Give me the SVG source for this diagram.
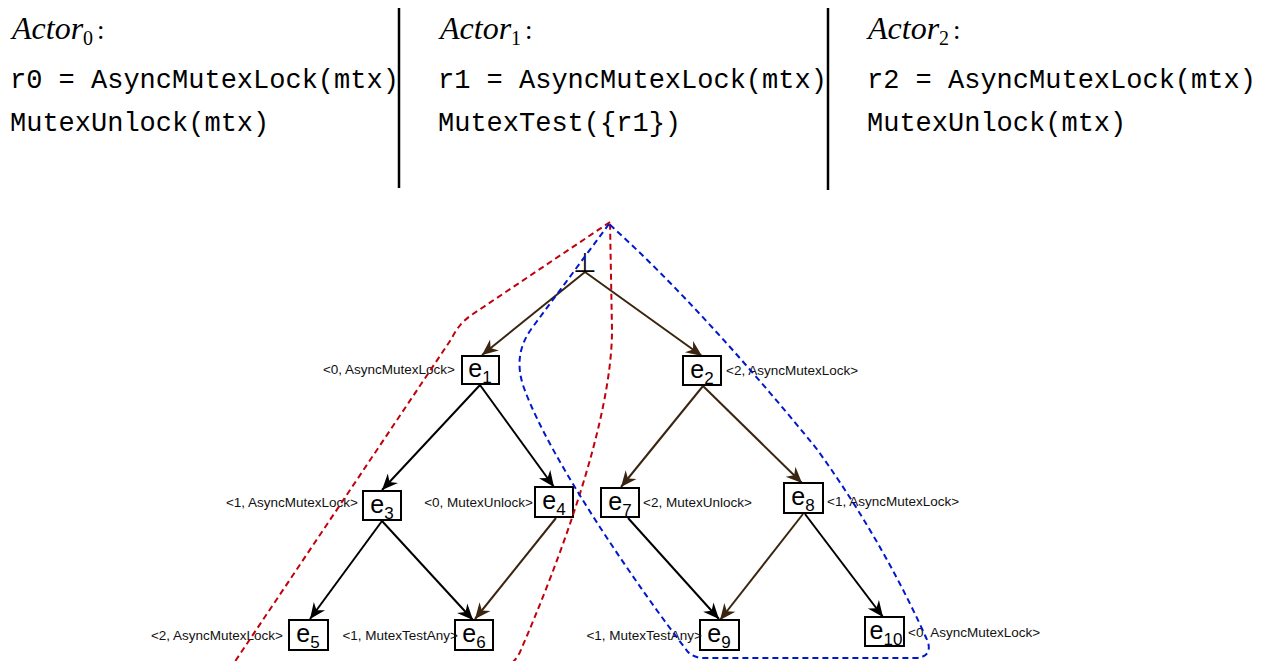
<svg xmlns="http://www.w3.org/2000/svg" width="1266" height="661" viewBox="0 0 1266 661">
<style>
.mono{font-family:"Liberation Mono","DejaVu Sans Mono",monospace;font-size:27px;fill:#000}
.actor{font-family:"Liberation Serif","DejaVu Serif",serif;font-style:italic;font-size:32px;fill:#000}
.sub{font-family:"Liberation Serif","DejaVu Serif",serif;font-style:normal;font-size:20px}
.colon{font-family:"Liberation Serif","DejaVu Serif",serif;font-style:normal;font-size:27px}
.div{stroke:#000;stroke-width:2.5}
.box{fill:#fff;stroke:#000;stroke-width:2}
.ev{font-family:"Liberation Sans",Arial,sans-serif;font-size:25px;fill:#000;text-anchor:middle}
.evs{font-size:17px}
.lbl{font-family:"Liberation Sans",Arial,sans-serif;font-size:13.5px;fill:#111}
.end{text-anchor:end}
.e-br{fill:none;stroke:#3b2510;stroke-width:2;marker-end:url(#arBr)}
.e-bk{fill:none;stroke:#000;stroke-width:2;marker-end:url(#arBk)}
.red{fill:none;stroke:#c0000b;stroke-width:2;stroke-dasharray:6 4}
.blue{fill:none;stroke:#0018cc;stroke-width:2;stroke-dasharray:6 4}
</style>
<defs>
<marker id="arBr" markerUnits="userSpaceOnUse" markerWidth="18" markerHeight="16" viewBox="-17 -8 18 16" refX="0" refY="0" orient="auto">
<path d="M0,0 L-16,-7 L-11,0 L-16,7 Z" fill="#3b2510"/>
</marker>
<marker id="arBk" markerUnits="userSpaceOnUse" markerWidth="18" markerHeight="16" viewBox="-17 -8 18 16" refX="0" refY="0" orient="auto">
<path d="M0,0 L-16,-7 L-11,0 L-16,7 Z" fill="#000"/>
</marker>
</defs>
<rect width="1266" height="661" fill="#fff"/>

<g id="programs">
<text class="actor" x="12" y="39">Actor<tspan class="sub" dy="6">0</tspan><tspan class="colon" dx="4" dy="-6">:</tspan></text>
<text class="mono" x="10" y="88">r0 = AsyncMutexLock(mtx)</text>
<text class="mono" x="10" y="131">MutexUnlock(mtx)</text>
<line class="div" x1="399" y1="8" x2="399" y2="188"/>
<text class="actor" x="440" y="39">Actor<tspan class="sub" dy="6">1</tspan><tspan class="colon" dx="4" dy="-6">:</tspan></text>
<text class="mono" x="438" y="88">r1 = AsyncMutexLock(mtx)</text>
<text class="mono" x="438" y="131">MutexTest({r1})</text>
<line class="div" x1="828" y1="8" x2="828" y2="190"/>
<text class="actor" x="868" y="39">Actor<tspan class="sub" dy="6">2</tspan><tspan class="colon" dx="4" dy="-6">:</tspan></text>
<text class="mono" x="867" y="88">r2 = AsyncMutexLock(mtx)</text>
<text class="mono" x="867" y="131">MutexUnlock(mtx)</text>
</g>

<g id="connectors">
<path class="e-br" d="M585,272 L482,355"/>
<path class="e-br" d="M585,272 L702,356"/>
<path class="e-bk" d="M480,385 L382,490"/>
<path class="e-bk" d="M480,385 L554,487"/>
<path class="e-br" d="M703,386 L621,487"/>
<path class="e-br" d="M703,386 L802,483"/>
<path class="e-bk" d="M382,521 L310,619"/>
<path class="e-bk" d="M382,521 L473,620"/>
<path class="e-br" d="M556,518 L475,619"/>
<path class="e-bk" d="M628,518 L719,619"/>
<path class="e-br" d="M803,514 L720,620"/>
<path class="e-bk" d="M805,514 L883,617"/>
</g>

<g id="bottom">
<text x="585" y="272" font-family="DejaVu Sans, sans-serif" font-size="27" text-anchor="middle" fill="#000">⊥</text>
</g>

<g id="e1">
<rect class="box" x="462" y="356" width="37" height="28"/>
<text class="ev" x="480" y="377">e<tspan class="evs" dy="6">1</tspan></text>
<text class="lbl end" x="455" y="374">&lt;0, AsyncMutexLock&gt;</text>
</g>
<g id="e2">
<rect class="box" x="683" y="356" width="38" height="29"/>
<text class="ev" x="702" y="378">e<tspan class="evs" dy="6">2</tspan></text>
<text class="lbl" x="726" y="375">&lt;2, AsyncMutexLock&gt;</text>
</g>
<g id="e3">
<rect class="box" x="363" y="491" width="38" height="29"/>
<text class="ev" x="382" y="513">e<tspan class="evs" dy="6">3</tspan></text>
<text class="lbl end" x="358" y="507">&lt;1, AsyncMutexLock&gt;</text>
</g>
<g id="e4">
<rect class="box" x="535" y="487" width="38" height="30"/>
<text class="ev" x="554" y="509">e<tspan class="evs" dy="6">4</tspan></text>
<text class="lbl end" x="533" y="507">&lt;0, MutexUnlock&gt;</text>
</g>
<g id="e5">
<rect class="box" x="289" y="620" width="39" height="30"/>
<text class="ev" x="308" y="642">e<tspan class="evs" dy="6">5</tspan></text>
<text class="lbl end" x="283" y="640">&lt;2, AsyncMutexLock&gt;</text>
</g>
<g id="e6">
<rect class="box" x="455" y="620" width="38" height="30"/>
<text class="ev" x="474" y="642">e<tspan class="evs" dy="6">6</tspan></text>
<text class="lbl end" x="458" y="640">&lt;1, MutexTestAny&gt;</text>
</g>
<g id="e7">
<rect class="box" x="601" y="488" width="38" height="29"/>
<text class="ev" x="620" y="510">e<tspan class="evs" dy="6">7</tspan></text>
<text class="lbl" x="643" y="507">&lt;2, MutexUnlock&gt;</text>
</g>
<g id="e8">
<rect class="box" x="784" y="483" width="39" height="30"/>
<text class="ev" x="803" y="505">e<tspan class="evs" dy="6">8</tspan></text>
<text class="lbl" x="827" y="506">&lt;1, AsyncMutexLock&gt;</text>
</g>
<g id="e9">
<rect class="box" x="700" y="620" width="39" height="30"/>
<text class="ev" x="719" y="642">e<tspan class="evs" dy="6">9</tspan></text>
<text class="lbl end" x="702" y="640">&lt;1, MutexTestAny&gt;</text>
</g>
<g id="e10">
<rect class="box" x="865" y="617" width="39" height="29"/>
<text class="ev" x="886" y="639">e<tspan class="evs" dy="6">10</tspan></text>
<text class="lbl" x="908" y="637">&lt;0, AsyncMutexLock&gt;</text>
</g>

<g id="regions">
<path class="red" d="M610,222 L470,316 Q458,325 452,338 L236,660 Q231,668 244,668 L498,668 Q512,668 520,652 C560,560 612,420 612,330 L610,222 Z"/>
<path class="blue" d="M609,224 L532,328 Q512,355 524,388 C550,460 640,590 688,652 Q694,658 704,658 L916,658 Q932,657 928,642 C905,590 867,518 816,448 C750,367 676,284 609,224 Z"/>
</g>
</svg>
